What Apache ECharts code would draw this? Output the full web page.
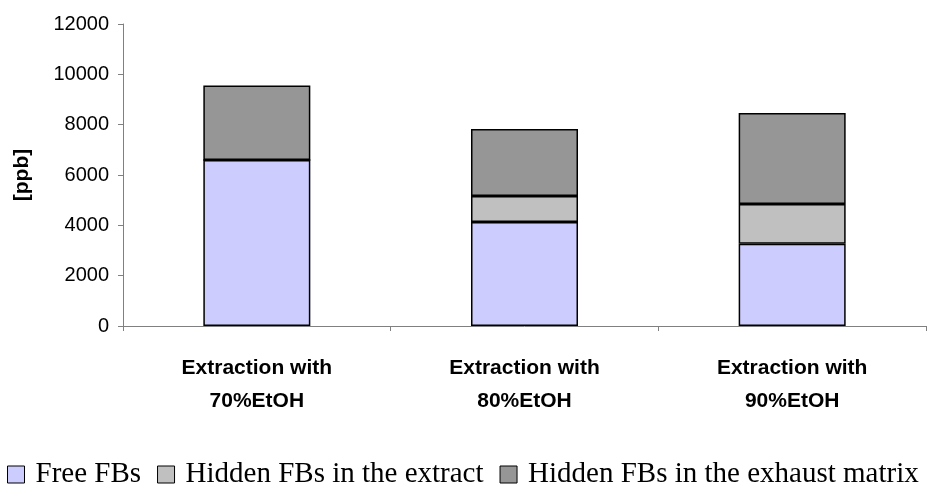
<!DOCTYPE html>
<html>
<head>
<meta charset="utf-8">
<script src="https://cdn.jsdelivr.net/npm/echarts@6/dist/echarts.min.js"></script>
<style>
  html, body { margin: 0; padding: 0; background: #fff; }
  #chart { width: 928px; height: 485px; }
</style>
</head>
<body>
<div id="chart"></div>
<script>
// Extraction conditions on the category axis
const categories = ['Extraction with\n70%EtOH', 'Extraction with\n80%EtOH', 'Extraction with\n90%EtOH'];

// Stacked components, in ppb
const freeFBs = [6600, 4130, 3270];
const hiddenExtract = [0, 1035, 1580];
const hiddenExhaust = [2960, 2665, 3610];

const seriesNames = ['Free FBs', 'Hidden FBs in the extract', 'Hidden FBs in the exhaust matrix'];
const seriesColors = ['#ccccff', '#c0c0c0', '#969696'];
const seriesData = [freeFBs, hiddenExtract, hiddenExhaust];

const chart = echarts.init(document.getElementById('chart'), null, { renderer: 'canvas' });

chart.setOption({
  animation: false,
  backgroundColor: '#ffffff',
  grid: { left: 123, right: 2, top: 24, bottom: 159, containLabel: false },
  legend: {
    top: 460,
    left: 7,
    padding: 0,
    itemWidth: 17,
    itemHeight: 17,
    itemGap: 16,
    icon: 'rect',
    itemStyle: { borderColor: '#000', borderWidth: 1 },
    textStyle: { fontFamily: 'Liberation Serif', fontSize: 29, color: '#000', padding: [0, 0, 0, 6] },
    data: seriesNames
  },
  xAxis: {
    type: 'category',
    data: categories,
    boundaryGap: true,
    axisLine: { lineStyle: { color: '#808080', width: 1 } },
    axisTick: { show: true, length: 5, lineStyle: { color: '#808080' } },
    axisLabel: {
      margin: 26,
      fontFamily: 'Liberation Sans',
      fontWeight: 'bold',
      fontSize: 21,
      lineHeight: 33,
      color: '#000',
      align: 'center'
    }
  },
  yAxis: {
    type: 'value',
    min: 0,
    max: 12000,
    interval: 2000,
    name: '[ppb]',
    nameLocation: 'middle',
    nameGap: 90,
    nameTextStyle: { fontFamily: 'Liberation Sans', fontWeight: 'bold', fontSize: 21, color: '#000' },
    axisLine: { show: true, lineStyle: { color: '#808080', width: 1 } },
    axisTick: { show: true, length: 5, lineStyle: { color: '#808080' } },
    splitLine: { show: false },
    axisLabel: {
      margin: 14,
      fontFamily: 'Liberation Sans',
      fontSize: 20,
      color: '#000',
      formatter: (v) => String(v)
    }
  },
  series: seriesData.map((d, i) => ({
    name: seriesNames[i],
    type: 'bar',
    stack: 'total',
    data: d,
    barWidth: 107,
    itemStyle: { color: seriesColors[i], borderColor: '#000', borderWidth: 1.5 }
  }))
});
</script>
</body>
</html>
